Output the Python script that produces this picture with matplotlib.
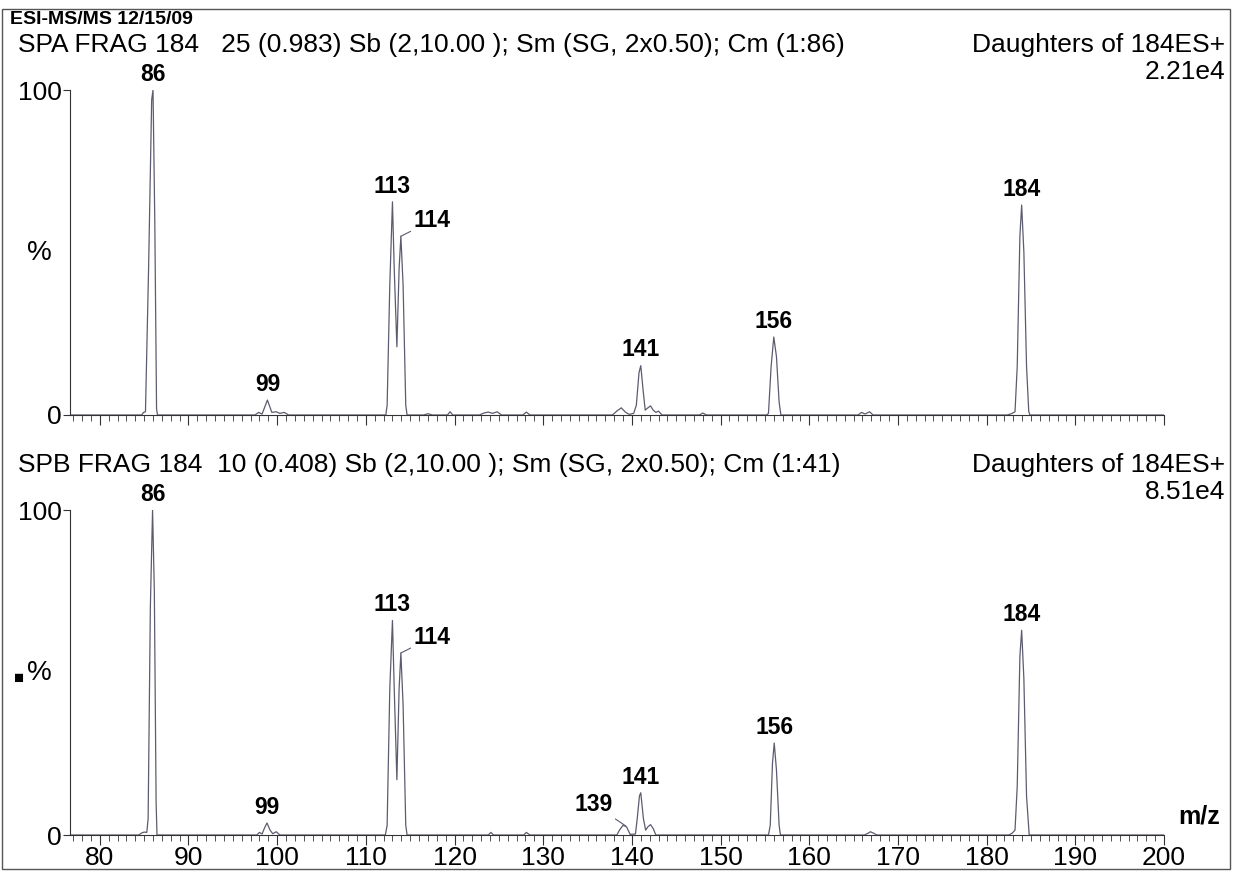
import matplotlib
matplotlib.use("Agg")
import matplotlib.pyplot as plt
from matplotlib.ticker import MultipleLocator
from matplotlib.patches import Rectangle

plt.rcParams['font.family'] = ['Liberation Sans', 'DejaVu Sans']

# traced profiles (m/z, % relative intensity)
top_mz = [76.6, 84.7, 84.95, 85.15, 85.5, 85.85, 86.0, 86.2, 86.4, 86.5,
          97.5, 97.9, 98.3, 98.9, 99.4, 99.9, 100.3, 100.8, 101.3,
          112.25, 112.4, 112.7, 113.0, 113.2, 113.5, 113.75, 113.95, 114.2, 114.5, 114.65,
          116.5, 117.0, 117.5, 119.2, 119.5, 119.8, 122.8, 123.3, 123.8, 124.3, 124.8, 125.3,
          127.7, 128.1, 128.5, 137.8, 138.3, 138.8, 139.3, 139.7, 140.2, 140.5, 140.8, 141.0,
          141.25, 141.5, 141.8, 142.1, 142.4, 142.7, 143.0, 143.4, 147.6, 148.0, 148.4,
          155.2, 155.4, 155.7, 156.0, 156.3, 156.6, 156.8, 165.5, 165.9, 166.3, 166.8, 167.2,
          182.3, 182.8, 183.2, 183.45, 183.75, 183.95, 184.2, 184.5, 184.75, 184.9, 200.0]
top_pct = [0, 0, 0.8, 1, 45, 97, 100, 60, 2, 0,
           0, 0.8, 0.3, 4.6, 0.8, 1.0, 0.5, 0.8, 0,
           0, 3, 40, 65.6, 45, 21, 45, 55, 40, 3, 0,
           0, 0.4, 0, 0, 1.0, 0, 0, 0.6, 0.9, 0.5, 1.0, 0,
           0, 0.9, 0, 0, 1.2, 2.2, 0.8, 0.2, 0.5, 3, 13, 15.2,
           8, 1.5, 2.2, 2.8, 1.5, 0.8, 1.2, 0, 0, 0.6, 0,
           0, 0.5, 15, 24, 18, 4, 0, 0, 0.8, 0.3, 1.0, 0,
           0, 0.4, 1, 15, 55, 64.6, 50, 15, 1, 0, 0]

bot_mz = [76.6, 84.4, 84.7, 85.0, 85.3, 85.45, 85.7, 85.95, 86.15, 86.35, 86.45,
          97.7, 98.0, 98.3, 98.55, 98.85, 99.2, 99.5, 99.9, 100.3,
          112.2, 112.4, 112.7, 113.0, 113.2, 113.5, 113.75, 113.95, 114.2, 114.5, 114.65,
          123.8, 124.1, 124.4, 127.8, 128.1, 128.5,
          138.3, 138.6, 139.0, 139.4, 139.8, 140.4, 140.6, 140.85, 141.0, 141.3, 141.55,
          141.8, 142.1, 142.4, 142.7,
          155.4, 155.6, 155.85, 156.05, 156.3, 156.6, 156.75,
          166.2, 166.6, 166.9, 167.3, 167.6,
          182.5, 182.9, 183.2, 183.45, 183.75, 183.95, 184.2, 184.5, 184.8, 200.0]
bot_pct = [0, 0, 0.6, 0.9, 0.8, 5, 70, 100, 75, 10, 0,
           0, 0.8, 0.3, 2, 3.7, 1.5, 0.4, 1.0, 0,
           0, 3, 45, 66, 45, 17, 45, 56, 40, 3, 0,
           0, 0.8, 0, 0, 0.8, 0,
           0, 1.5, 3, 2.5, 0.2, 0.3, 5, 12, 13, 5, 1.5,
           2.5, 3.2, 2, 0,
           0, 3, 22, 28.3, 20, 3, 0,
           0, 0.5, 1.0, 0.5, 0,
           0, 0.6, 1.5, 15, 55, 63, 48, 12, 0, 0]

top_labels = ['86', '99', '113', '114', '141', '156', '184']
top_lab_mz = [86.0, 98.9, 113.0, 113.95, 141.0, 156.0, 183.95]
top_lab_pct = [100, 4.6, 65.6, 55, 15.2, 24, 64.6]

bot_labels = ['86', '99', '113', '114', '139', '141', '156', '184']
bot_lab_mz = [85.95, 98.85, 113.0, 113.95, 139.3, 141.0, 156.05, 183.95]
bot_lab_pct = [100, 3.7, 66, 56, 2.8, 13, 28.3, 63]

titles = ['SPA FRAG 184   25 (0.983) Sb (2,10.00 ); Sm (SG, 2x0.50); Cm (1:86)',
          'SPB FRAG 184  10 (0.408) Sb (2,10.00 ); Sm (SG, 2x0.50); Cm (1:41)']
scales = ['2.21e4', '8.51e4']

W, H = 1234, 871
fig = plt.figure(figsize=(W / 100, H / 100), dpi=100)
fig.patch.set_facecolor('white')
fig.patches.append(Rectangle((2 / W, 2 / H), 1228 / W, 860 / H, transform=fig.transFigure,
                             fill=False, lw=1, ec='#555555'))


def px(x, y):
    return x / W, 1 - y / H


line_col = '#5c5c70'
for i, (mz, pct, labs, lmz, lpct) in enumerate([
        (top_mz, top_pct, top_labels, top_lab_mz, top_lab_pct),
        (bot_mz, bot_pct, bot_labels, bot_lab_mz, bot_lab_pct)]):
    y0 = 415 if i == 0 else 835
    ax = fig.add_axes([70 / W, (H - y0) / H, 1094 / W, 325 / H])
    ax.plot(mz, pct, color=line_col, lw=0.9)
    ax.set_xlim(76.64, 200)
    ax.set_ylim(0, 100)
    for s in ['top', 'right']:
        ax.spines[s].set_visible(False)
    ax.spines['left'].set_color('#333333')
    ax.spines['bottom'].set_color('#333333')
    ax.xaxis.set_major_locator(MultipleLocator(10))
    ax.xaxis.set_minor_locator(MultipleLocator(1))
    ax.tick_params(axis='x', which='major', length=7, color='#333333', labelsize=19, pad=1)
    ax.tick_params(axis='x', which='minor', length=4, color='#333333')
    ax.set_yticks([0, 100])
    ax.set_yticklabels(['0', '100'])
    ax.tick_params(axis='y', length=5, color='#333333', labelsize=19, pad=1)
    if i == 0:
        ax.tick_params(axis='x', labelbottom=False)
    else:
        ax.text(1.013, 0.02, 'm/z', transform=ax.transAxes, fontsize=18,
                fontweight='bold', ha='left', va='bottom')
    ax.text(-0.028, 0.5, '%', transform=ax.transAxes, fontsize=20, ha='center', va='center')

    for t, m, p in zip(labs, lmz, lpct):
        if t in ('114', '139'):
            dx = 9 if t == '114' else -9
            dy = 3 if t == '114' else 7
            ax.annotate(t, xy=(m, p), xytext=(dx, dy), textcoords='offset points',
                        fontsize=16.5, fontweight='bold',
                        ha='left' if t == '114' else 'right', va='bottom',
                        arrowprops=dict(arrowstyle='-', color=line_col, lw=0.8,
                                        shrinkA=0, shrinkB=0))
        else:
            ax.annotate(t, xy=(m, p), xytext=(0, 3), textcoords='offset points',
                        fontsize=16.5, fontweight='bold', ha='center', va='bottom')

    ty = 45 if i == 0 else 465
    fig.text(*px(18, ty), titles[i], fontsize=19, ha='left', va='center')
    fig.text(*px(1225, ty), 'Daughters of 184ES+', fontsize=19, ha='right', va='center')
    fig.text(*px(1225, ty + 27), scales[i], fontsize=19, ha='right', va='center')

fig.text(*px(10, 19), 'ESI-MS/MS 12/15/09', fontsize=14, fontweight='bold',
         ha='left', va='center')
fig.text(*px(19, 678), '■', fontsize=12, ha='center', va='center')

fig.savefig('out.png', dpi=100)
